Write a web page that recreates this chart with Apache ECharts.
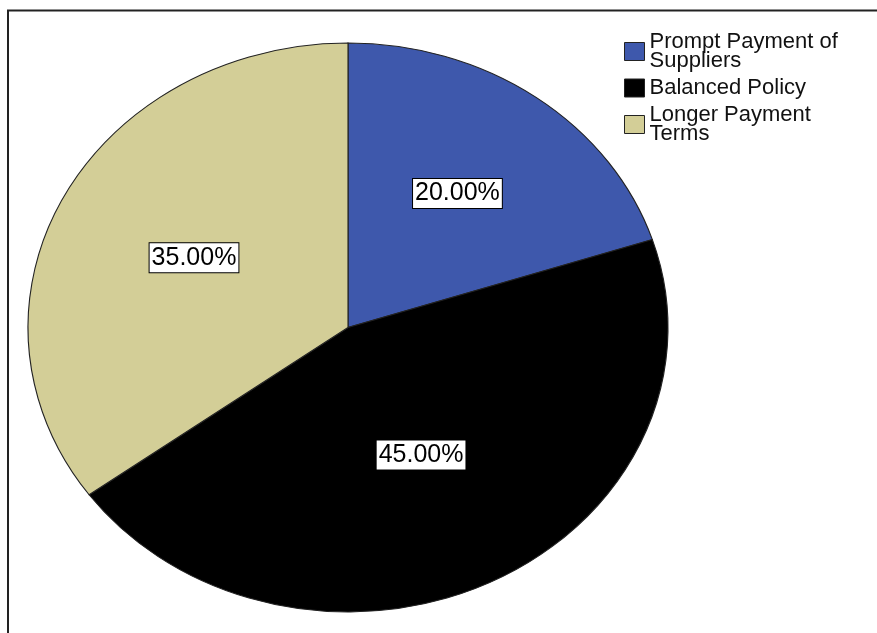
<!DOCTYPE html>
<html><head><meta charset="utf-8">
<script src="https://cdn.jsdelivr.net/npm/echarts@6/dist/echarts.min.js"></script>
<style>html,body{margin:0;padding:0;background:#fff}#c{width:877px;height:633px}</style>
</head><body><div id="c"></div>
<script>
const categories = ['Prompt Payment of Suppliers', 'Balanced Policy', 'Longer Payment Terms'];
const values = [20, 45, 35];
const percentLabels = ['20.00%', '45.00%', '35.00%'];
const colors = ['#3E58AC', '#000000', '#D3CE97'];

const FONT = '"Liberation Sans", Arial, sans-serif';
const chart = echarts.init(document.getElementById('c'), null, {renderer: 'canvas'});
const total = values.reduce((a, b) => a + b, 0);
const starts = [];
let acc = 0;
values.forEach(v => { starts.push(acc); acc += v; });

// ellipse geometry
const CX = 348, CY = 327.5, RX = 320, RY = 284.5;

function makeRender(i) {
  return function (params, api) {
    const a0 = -Math.PI / 2 + 2 * Math.PI * starts[i] / total;
    const a1 = a0 + 2 * Math.PI * values[i] / total;
    const mid = 2 * Math.PI * (starts[i] + values[i] / 2) / total;
    const half = Math.PI * values[i] / total;
    const centroid = 2 * Math.sin(half) / (3 * half);
    const f = 0.5 * centroid + 0.27;
    const lx = CX + f * RX * Math.sin(mid);
    const ly = CY - f * RY * Math.cos(mid);
    return {
      type: 'group',
      children: [
        {
          type: 'sector',
          x: CX, y: CY, scaleX: RX / RY, scaleY: 1,
          shape: {cx: 0, cy: 0, r0: 0, r: RY, startAngle: a0, endAngle: a1, clockwise: true},
          style: {fill: colors[i], stroke: '#222', lineWidth: 1, strokeNoScale: true}
        },
        {
          type: 'text',
          x: lx, y: ly, z2: 10,
          style: {
            text: percentLabels[i],
            fontFamily: FONT,
            fontSize: 25,
            fill: '#000',
            align: 'center',
            verticalAlign: 'middle',
            backgroundColor: '#fff',
            borderColor: '#000',
            borderWidth: 1,
            padding: [2, 2, 2, 2],
            lineHeight: 25
          }
        }
      ]
    };
  };
}

function wrapName(name) {
  const words = name.split(' ');
  const lines = [];
  let cur = '';
  words.forEach(w => {
    const t = cur ? cur + ' ' + w : w;
    if (t.length > 17 && cur) { lines.push(cur); cur = w; } else { cur = t; }
  });
  lines.push(cur);
  return lines.join('\n');
}

const series = categories.map((name, i) => ({
  type: 'custom',
  name: name,
  coordinateSystem: 'none',
  data: [values[i]],
  itemStyle: {color: colors[i]},
  renderItem: makeRender(i),
  silent: true,
  animation: false
}));

chart.setOption({
  animation: false,
  backgroundColor: '#fff',
  color: colors,
  legend: {
    orient: 'vertical',
    left: 624, top: 31,
    padding: 0,
    itemWidth: 20, itemHeight: 18, itemGap: 5,
    icon: 'rect',
    selectedMode: false,
    itemStyle: {borderColor: '#222', borderWidth: 1},
    data: categories,
    formatter: wrapName,
    textStyle: {fontFamily: FONT, fontSize: 22, lineHeight: 19, color: '#111'}
  },
  graphic: [{
    type: 'polyline',
    shape: {points: [[8, 633], [8, 10.5], [877, 10.5]]},
    style: {stroke: '#222', lineWidth: 2, fill: null}
  }],
  series: series
});
</script>
</body></html>
